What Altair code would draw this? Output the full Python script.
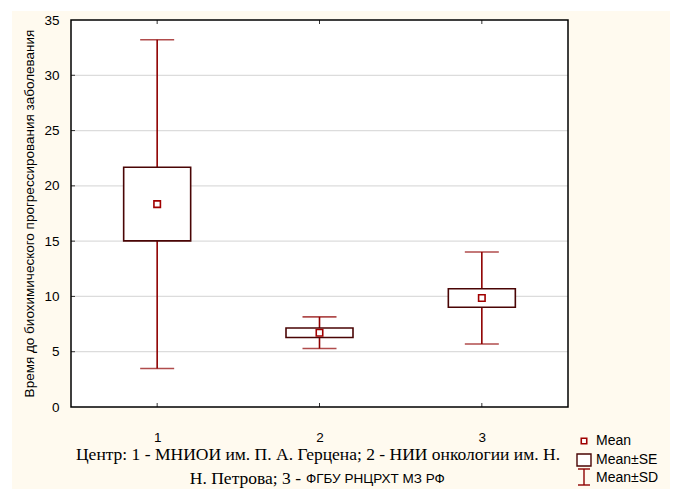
import altair as alt
import pandas as pd

# ---- data ----
groups = [1, 2, 3]
means = [18.35, 6.72, 9.86]
se = [3.33, 0.43, 0.84]
sd = [14.87, 1.43, 4.16]
y_ticks = [0, 5, 10, 15, 20, 25, 30, 35]
grid_vals = [5, 10, 15, 20, 25, 30]

y_title = "Время до биохимического прогрессирования заболевания"
x_line1 = "Центр: 1 - МНИОИ им. П. А. Герцена; 2 - НИИ онкологии им. Н."
x_line2a = "Н. Петрова; 3 -"
x_line2b = "ФГБУ РНЦРХТ МЗ РФ"
legend_labels = ["Mean", "Mean±SE", "Mean±SD"]

df = pd.DataFrame({"g": groups, "m": means, "se": se, "sd": sd})
df["se_lo"] = df["m"] - df["se"]
df["se_hi"] = df["m"] + df["se"]
df["sd_lo"] = df["m"] - df["sd"]
df["sd_hi"] = df["m"] + df["sd"]

W, H = 497, 387
SANS = "Liberation Sans"
SERIF = "Liberation Serif"
WHISK = "#8f0000"
BOX = "#4a0505"
MEANC = "#a00000"

xs = alt.Scale(domain=[0.5, 3.5], nice=False, zero=False)
ys = alt.Scale(domain=[0, 35], nice=False, zero=True)

one = pd.DataFrame({"a": [0]})
base = alt.Chart(df)

# background: cream panel + white plot area
cream = alt.Chart(one).mark_rect(color="#fffaef").encode(
    x=alt.value(-59), x2=alt.value(599), y=alt.value(-9), y2=alt.value(469))
white = alt.Chart(one).mark_rect(color="white").encode(
    x=alt.value(0), x2=alt.value(W), y=alt.value(0), y2=alt.value(H))

grid = alt.Chart(pd.DataFrame({"v": grid_vals})).mark_rule(
    color="#dcdcdc", strokeWidth=1.2).encode(
    y=alt.Y("v:Q", scale=ys), x=alt.value(0), x2=alt.value(W))
yticks_in = alt.Chart(pd.DataFrame({"v": grid_vals})).mark_rule(
    color="#333333", strokeWidth=1).encode(
    y=alt.Y("v:Q", scale=ys), x=alt.value(0), x2=alt.value(4))
xticks_bot = alt.Chart(pd.DataFrame({"g": groups})).mark_rule(
    color="#333333", strokeWidth=1).encode(
    x=alt.X("g:Q", scale=xs), y=alt.value(H), y2=alt.value(H - 4))
xticks_top = alt.Chart(pd.DataFrame({"g": groups})).mark_rule(
    color="#333333", strokeWidth=1).encode(
    x=alt.X("g:Q", scale=xs), y=alt.value(0), y2=alt.value(4))

whisker = base.mark_rule(color=WHISK, strokeWidth=1.6).encode(
    x=alt.X("g:Q", scale=xs,
            axis=alt.Axis(values=groups, title=None, domain=False, ticks=False, grid=False,
                          labelFont=SANS, labelFontSize=13.5, labelColor="black",
                          labelPadding=23, format="d", zindex=1)),
    y=alt.Y("sd_lo:Q", scale=ys,
            axis=alt.Axis(values=y_ticks, title=None, domain=False, ticks=False, grid=False,
                          labelFont=SANS, labelFontSize=13.5, labelColor="black",
                          labelPadding=12, zindex=1, orient="left")),
    y2="sd_hi:Q")
cap_lo = base.mark_tick(color=WHISK, orient="horizontal", size=34, thickness=1.6).encode(
    x=alt.X("g:Q", scale=xs), y=alt.Y("sd_lo:Q", scale=ys))
cap_hi = base.mark_tick(color=WHISK, orient="horizontal", size=34, thickness=1.6).encode(
    x=alt.X("g:Q", scale=xs), y=alt.Y("sd_hi:Q", scale=ys))
box = base.mark_bar(size=67, fill="white", stroke=BOX, strokeWidth=1.6).encode(
    x=alt.X("g:Q", scale=xs), y=alt.Y("se_lo:Q", scale=ys), y2="se_hi:Q")
meanpt = base.mark_point(shape="square", size=42, filled=False, fill="white",
                         stroke=MEANC, strokeWidth=1.6, opacity=1).encode(
    x=alt.X("g:Q", scale=xs), y=alt.Y("m:Q", scale=ys))

frame = alt.Chart(one).mark_rect(fill=None, stroke="black", strokeWidth=1.5).encode(
    x=alt.value(0), x2=alt.value(W), y=alt.value(0), y2=alt.value(H))

ytitle = alt.Chart(one).mark_text(font=SANS, fontSize=13.5, angle=270, color="black").encode(
    x=alt.value(-41), y=alt.value(H / 2), text=alt.value(y_title))
xt1 = alt.Chart(one).mark_text(font=SERIF, fontSize=17.5, color="black").encode(
    x=alt.value(247), y=alt.value(435), text=alt.value(x_line1))
xt2a = alt.Chart(one).mark_text(font=SERIF, fontSize=17.5, color="black", align="right").encode(
    x=alt.value(230), y=alt.value(459), text=alt.value(x_line2a))
xt2b = alt.Chart(one).mark_text(font=SANS, fontSize=13.5, color="black", align="left").encode(
    x=alt.value(235), y=alt.value(459), text=alt.value(x_line2b))

# legend
lg_mean = alt.Chart(one).mark_point(shape="square", size=30, filled=False, fill="white",
                                    stroke=MEANC, strokeWidth=1.6, opacity=1).encode(
    x=alt.value(513), y=alt.value(421))
lg_box = alt.Chart(one).mark_rect(fill="white", stroke=BOX, strokeWidth=1.4).encode(
    x=alt.value(506), x2=alt.value(520), y=alt.value(434), y2=alt.value(446))
lg_v = alt.Chart(one).mark_rule(color=WHISK, strokeWidth=1.4).encode(
    x=alt.value(513), y=alt.value(449), y2=alt.value(465))
lg_c1 = alt.Chart(one).mark_rule(color=WHISK, strokeWidth=1.4).encode(
    x=alt.value(507), x2=alt.value(519), y=alt.value(449))
lg_c2 = alt.Chart(one).mark_rule(color=WHISK, strokeWidth=1.4).encode(
    x=alt.value(507), x2=alt.value(519), y=alt.value(465))
lg_y = [421, 440, 458]
lg_texts = [
    alt.Chart(one).mark_text(font=SANS, fontSize=14, color="black", align="left").encode(
        x=alt.value(525), y=alt.value(yy), text=alt.value(t))
    for t, yy in zip(legend_labels, lg_y)
]

chart = alt.layer(
    cream, white, grid, yticks_in, xticks_bot, xticks_top,
    whisker, cap_lo, cap_hi, box, meanpt, frame,
    ytitle, xt1, xt2a, xt2b,
    lg_mean, lg_box, lg_v, lg_c1, lg_c2, *lg_texts,
).properties(
    width=W, height=H,
    autosize=alt.AutoSizeParams(type="none"),
    padding={"left": 71, "top": 20, "right": 105, "bottom": 84},
    background="white",
).configure_view(stroke=None)

chart.save("out.html", embed_options={"renderer": "svg", "actions": False})
